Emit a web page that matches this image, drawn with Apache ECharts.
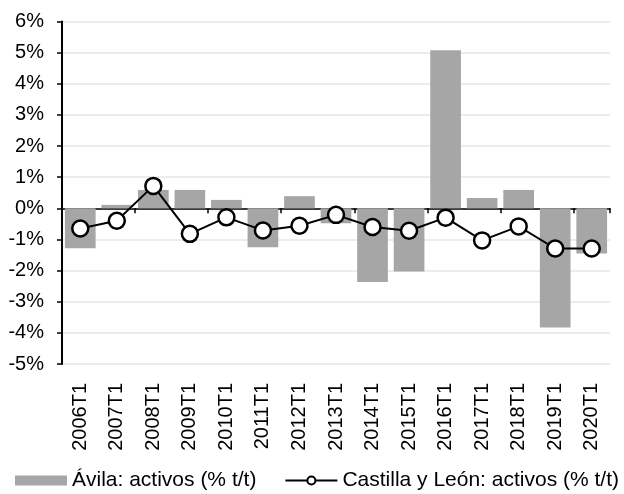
<!DOCTYPE html>
<html>
<head>
<meta charset="utf-8">
<script src="https://cdn.jsdelivr.net/npm/echarts@6/dist/echarts.min.js"></script>
<style>
html,body{margin:0;padding:0;background:#fff;}
#chart{width:624px;height:494px;}
</style>
</head>
<body>
<div id="chart"></div>
<script>
var categories = ['2006T1','2007T1','2008T1','2009T1','2010T1','2011T1','2012T1','2013T1','2014T1','2015T1','2016T1','2017T1','2018T1','2019T1','2020T1'];
var avila = [-1.28, 0.11, 0.59, 0.59, 0.27, -1.25, 0.39, -0.48, -2.37, -2.03, 5.08, 0.33, 0.59, -3.83, -1.45];
var castilla = [-0.65, -0.40, 0.72, -0.82, -0.29, -0.71, -0.56, -0.21, -0.60, -0.72, -0.30, -1.03, -0.58, -1.29, -1.29];
var yMin = -5, yMax = 6, yStep = 1;

var FONT = '"Liberation Sans", Arial, sans-serif';
var chart = echarts.init(document.getElementById('chart'), null, {renderer: 'canvas'});
chart.setOption({
  animation: false,
  backgroundColor: '#fff',
  textStyle: {fontFamily: FONT, color: '#000'},
  grid: {left: 62, right: 14, top: 21.5, bottom: 130, containLabel: false},
  legend: {
    left: 15, top: 470, padding: 0, itemWidth: 52, itemHeight: 10, itemGap: 28,
    textStyle: {fontFamily: FONT, fontSize: 21, color: '#000'},
    data: [
      {name: 'Ávila: activos (% t/t)', icon: 'rect'},
      {name: 'Castilla y León: activos (% t/t)'}
    ]
  },
  xAxis: [
    {
      type: 'category', data: categories, position: 'bottom',
      axisLine: {onZero: true, lineStyle: {color: '#000', width: 1.5}},
      axisTick: {show: true, length: 5, lineStyle: {color: '#000', width: 1.5}},
      axisLabel: {show: false},
      splitLine: {show: false}
    },
    {
      type: 'category', data: categories, position: 'bottom',
      axisLine: {show: false, onZero: false},
      axisTick: {show: false},
      axisLabel: {show: true, rotate: 90, margin: 19, fontSize: 20, fontFamily: FONT, color: '#000'},
      splitLine: {show: false}
    }
  ],
  yAxis: {
    type: 'value', min: yMin, max: yMax, interval: yStep,
    axisLine: {show: true, lineStyle: {color: '#000', width: 2}},
    axisTick: {show: true, length: 5, lineStyle: {color: '#000', width: 1.5}},
    axisLabel: {formatter: '{value}%', margin: 18, fontSize: 20, fontFamily: FONT, color: '#000'},
    splitLine: {show: true, lineStyle: {color: '#e6e6e6', width: 1.5}}
  },
  series: [
    {
      name: 'Ávila: activos (% t/t)', type: 'bar', data: avila, xAxisIndex: 0,
      barCategoryGap: '16%',
      itemStyle: {color: '#a6a6a6'}, z: 1
    },
    {
      name: 'Castilla y León: activos (% t/t)', type: 'line', data: castilla, xAxisIndex: 0,
      symbol: 'circle', symbolSize: 16,
      lineStyle: {color: '#000', width: 2},
      itemStyle: {color: '#fff', borderColor: '#000', borderWidth: 2.5},
      z: 5
    }
  ]
});
</script>
</body>
</html>
